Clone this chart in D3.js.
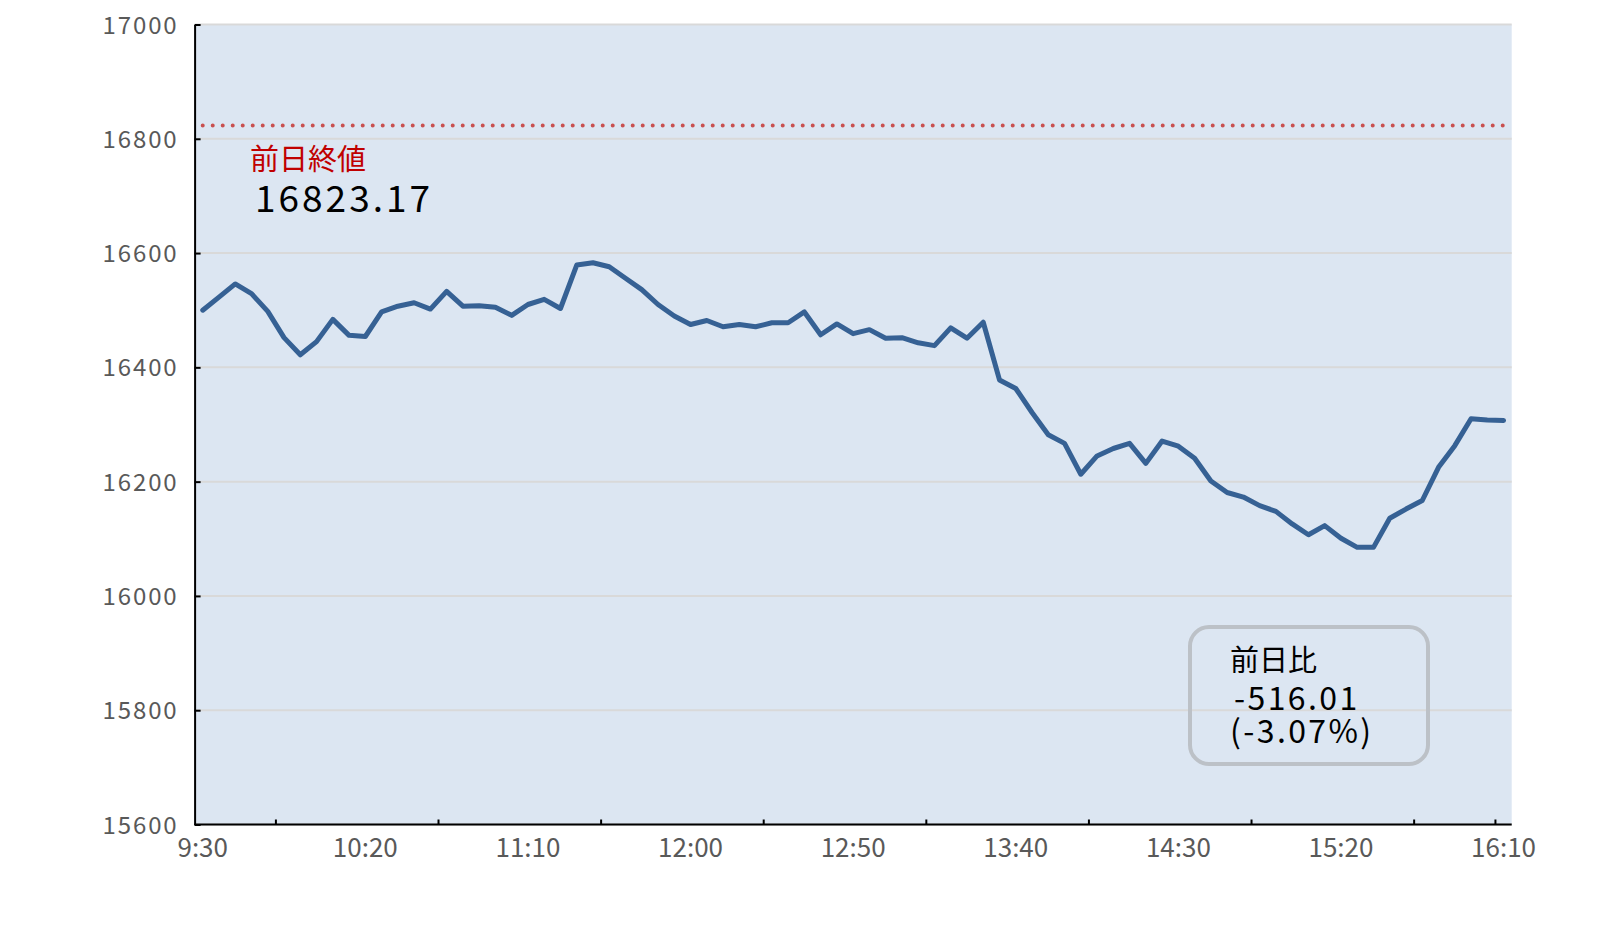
<!DOCTYPE html>
<html>
<head>
<meta charset="utf-8">
<script src="https://cdn.jsdelivr.net/npm/d3@7"></script>
<style>
  html, body { margin: 0; padding: 0; background: #ffffff; }
  svg { display: block; }
</style>
</head>
<body>
<svg id="chart" width="1606" height="932"></svg>
<script>
// ---- data ----
const times = [
  "9:30","9:35","9:40","9:45","9:50","9:55","10:00","10:05","10:10","10:15",
  "10:20","10:25","10:30","10:35","10:40","10:45","10:50","10:55","11:00","11:05",
  "11:10","11:15","11:20","11:25","11:30","11:35","11:40","11:45","11:50","11:55",
  "12:00","12:05","12:10","12:15","12:20","12:25","12:30","12:35","12:40","12:45",
  "12:50","12:55","13:00","13:05","13:10","13:15","13:20","13:25","13:30","13:35",
  "13:40","13:45","13:50","13:55","14:00","14:05","14:10","14:15","14:20","14:25",
  "14:30","14:35","14:40","14:45","14:50","14:55","15:00","15:05","15:10","15:15",
  "15:20","15:25","15:30","15:35","15:40","15:45","15:50","15:55","16:00","16:05",
  "16:10"
];
const prices = [
  16500, 16523, 16546, 16529, 16498, 16452, 16422, 16445, 16484, 16456,
  16454, 16497, 16507, 16513, 16502, 16533, 16507, 16508, 16505, 16491,
  16510, 16519, 16503, 16579, 16583, 16576, 16556, 16536, 16510, 16490,
  16475, 16482, 16471, 16475, 16471, 16478, 16478, 16497, 16457, 16476,
  16459, 16466, 16451, 16452, 16443, 16438, 16469, 16451, 16479, 16378,
  16363, 16321, 16282, 16267, 16213, 16245, 16258, 16267, 16232, 16271,
  16262, 16241, 16201, 16181, 16173, 16158, 16148, 16126, 16107, 16123,
  16101, 16085, 16085, 16136, 16152, 16167, 16225, 16263, 16310, 16308,
  16307
];
const prevClose = 16823.17;
const diffValue = "-516.01";
const diffPct = "(-3.07%)";
const yTicks = [15600, 15800, 16000, 16200, 16400, 16600, 16800, 17000];
const xTickLabels = ["9:30","10:20","11:10","12:00","12:50","13:40","14:30","15:20","16:10"];
const xTickMarkTimes = ["9:55","10:45","11:35","12:25","13:15","14:05","14:55","15:45","16:10"]; // marks at boundary before these

// ---- layout ----
const svg = d3.select("#chart");
const L = 194.6, R = 1511.7, T = 24.5, B = 824.5;
const FONT = "'Noto Sans CJK JP', 'Noto Sans', sans-serif";

const x = d3.scalePoint().domain(times).range([L, R]).padding(0.5);
const y = d3.scaleLinear().domain([15600, 17000]).range([B, T]);
const step = x.step();

// plot background
svg.append("rect").attr("x", L).attr("y", T).attr("width", R - L).attr("height", B - T)
  .attr("fill", "#dce6f2");

// gridlines
svg.append("g").selectAll("line").data(yTicks).join("line")
  .attr("x1", L).attr("x2", R)
  .attr("y1", d => y(d)).attr("y2", d => y(d))
  .attr("stroke", "#d9d9d9").attr("stroke-width", 2);

// previous close dotted line
svg.append("line")
  .attr("x1", x(times[0])).attr("x2", x(times[times.length - 1]))
  .attr("y1", y(prevClose)).attr("y2", y(prevClose))
  .attr("stroke", "#c9504f").attr("stroke-width", 4)
  .attr("stroke-linecap", "round").attr("stroke-dasharray", "0 10");

// price line
const line = d3.line().x((d, i) => x(times[i])).y(d => y(d));
svg.append("path").datum(prices)
  .attr("d", line)
  .attr("fill", "none").attr("stroke", "#366194").attr("stroke-width", 5)
  .attr("stroke-linejoin", "round").attr("stroke-linecap", "round");

// y axis
const yAxis = d3.axisLeft(y).tickValues(yTicks).tickFormat(d3.format("d"))
  .tickSize(-6).tickSizeOuter(0).tickPadding(16);
const gy = svg.append("g").attr("transform", `translate(${L},0)`).call(yAxis);
gy.select(".domain").attr("stroke", "#000").attr("stroke-width", 2);
gy.selectAll(".tick line").attr("stroke", "#000").attr("stroke-width", 2);
gy.selectAll(".tick text")
  .attr("font-family", FONT).attr("font-size", 24).attr("fill", "#595959")
  .attr("letter-spacing", 1.9).attr("dy", "0.36em");

// x axis (baseline + custom tick marks)
svg.append("line").attr("x1", L).attr("x2", R).attr("y1", B).attr("y2", B)
  .attr("stroke", "#000").attr("stroke-width", 2);
svg.append("g").selectAll("line").data(xTickMarkTimes).join("line")
  .attr("x1", d => x(d) - step / 2).attr("x2", d => x(d) - step / 2)
  .attr("y1", B).attr("y2", B - 5)
  .attr("stroke", "#000").attr("stroke-width", 2);
svg.append("g").selectAll("text").data(xTickLabels).join("text")
  .attr("x", d => x(d)).attr("y", 857)
  .attr("text-anchor", "middle")
  .attr("font-family", FONT).attr("font-size", 26).attr("fill", "#595959")
  .text(d => d);

// previous close annotation
svg.append("text").attr("x", 250).attr("y", 170)
  .attr("font-family", FONT).attr("font-size", 29).attr("fill", "#c00000")
  .text("前日終値");
svg.append("text").attr("x", 255).attr("y", 212)
  .attr("font-family", FONT).attr("font-size", 37).attr("fill", "#000")
  .attr("letter-spacing", 3)
  .text(d3.format(".2f")(prevClose));

// change box
svg.append("rect").attr("x", 1190).attr("y", 627).attr("width", 238).attr("height", 137)
  .attr("rx", 19).attr("ry", 19)
  .attr("fill", "none").attr("stroke", "#bcc1c7").attr("stroke-width", 4);
svg.append("text").attr("x", 1230).attr("y", 671)
  .attr("font-family", FONT).attr("font-size", 29).attr("fill", "#000")
  .text("前日比");
svg.append("text").attr("x", 1234).attr("y", 710)
  .attr("font-family", FONT).attr("font-size", 32).attr("fill", "#000")
  .attr("letter-spacing", 2.4)
  .text(diffValue);
svg.append("text").attr("x", 1230).attr("y", 743)
  .attr("font-family", FONT).attr("font-size", 32).attr("fill", "#000")
  .attr("letter-spacing", 2.4)
  .text(diffPct);
</script>
</body>
</html>
